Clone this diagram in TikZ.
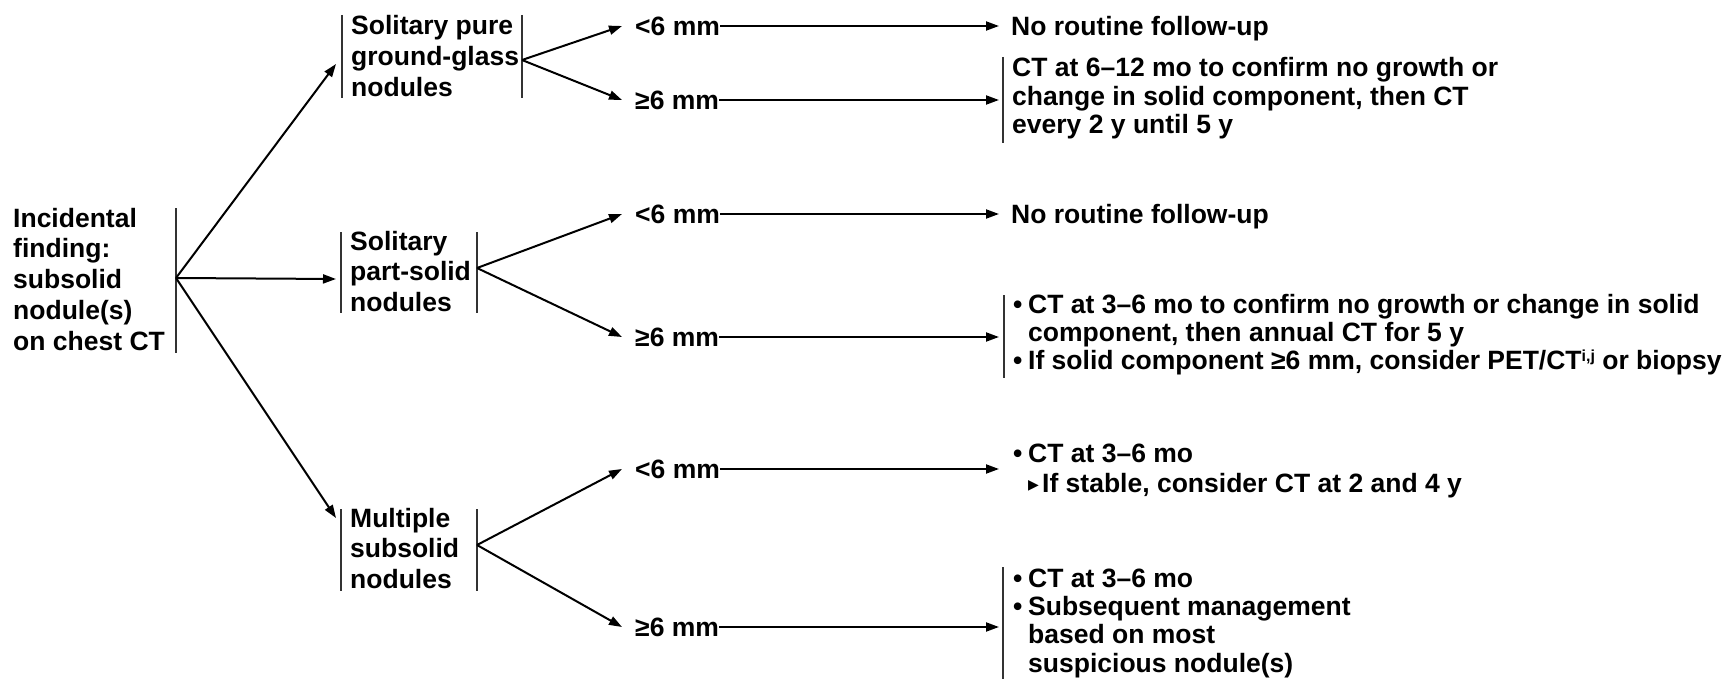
\documentclass[tikz,border=0pt]{standalone}
\usepackage{fontspec}
\setmainfont{Liberation Sans}
\newfontfamily\djv{DejaVu Sans}
\usetikzlibrary{arrows.meta}
\begin{document}
\begin{tikzpicture}[x=1pt,y=-1pt,
  arr/.style={-{Triangle[length=13pt,width=9pt]},line width=2pt},
  vbar/.style={line width=2pt,black!80},
  cat/.style={inner sep=0pt,anchor=base west,font=\bfseries\fontsize{26.5}{30.75}\selectfont},
  outc/.style={inner sep=0pt,anchor=base west,font=\bfseries\fontsize{26.5}{28.4}\selectfont},
  outw/.style={inner sep=0pt,anchor=base west,font=\bfseries\fontsize{26.5}{30}\selectfont},
  lab/.style={inner sep=0pt,anchor=west,text height=19pt,text depth=0pt,font=\bfseries\fontsize{26.5}{28}\selectfont},
]
\useasboundingbox (0,0) rectangle (1736,679);
\newcommand{\bul}{\makebox[15pt][l]{•}}

% category nodes
\node[cat] (root) at (13,227) {\begin{tabular}[t]{@{}l@{}}Incidental\\finding:\\subsolid\\nodule(s)\\on chest CT\end{tabular}};
\node[cat] (n1) at (351,35) {\begin{tabular}[t]{@{}l@{}}Solitary pure\\ground-glass\\nodules\end{tabular}};
\node[cat] (n2) at (350,250) {\begin{tabular}[t]{@{}l@{}}Solitary\\part-solid\\nodules\end{tabular}};
\node[cat] (n3) at (350,527) {\begin{tabular}[t]{@{}l@{}}Multiple\\subsolid\\nodules\end{tabular}};

% bars
\draw[vbar] (176,208) -- (176,353);
\draw[vbar] (342,15) -- (342,98);
\draw[vbar] (522,15) -- (522,98);
\draw[vbar] (341,232) -- (341,313);
\draw[vbar] (477,232) -- (477,313);
\draw[vbar] (341,509) -- (341,591);
\draw[vbar] (477,509) -- (477,591);

% connector points on bars
\coordinate (r0) at (176,278);
\coordinate (in1) at (336,64);
\coordinate (in2) at (336,279);
\coordinate (in3) at (336,518);
\coordinate (b1) at (522,60);
\coordinate (b2) at (477,268);
\coordinate (b3) at (477,545);
\coordinate (tipx) at (999,0);

\draw[arr] (r0) -- (in1);
\draw[arr] (r0) -- (in2);
\draw[arr] (r0) -- (in3);

% size labels
\node[lab] (l1) at (635,26) {<6 mm};
\node[lab] (l2) at (635,100) {≥6 mm};
\node[lab] (l3) at (635,214) {<6 mm};
\node[lab] (l4) at (635,337) {≥6 mm};
\node[lab] (l5) at (635,469) {<6 mm};
\node[lab] (l6) at (635,627) {≥6 mm};

\draw[arr] (b1) -- ([xshift=-13pt]l1.west);
\draw[arr] (b1) -- ([xshift=-13pt]l2.west);
\draw[arr] (b2) -- ([xshift=-13pt]l3.west);
\draw[arr] (b2) -- ([xshift=-13pt]l4.west);
\draw[arr] (b3) -- ([xshift=-13pt]l5.west);
\draw[arr] (b3) -- ([xshift=-13pt]l6.west);

% outcomes
\node[lab] (o1) at (1011,26) {No routine follow-up};
\node[outc] (o2) at (1012,77) {\begin{tabular}[t]{@{}l@{}}CT at 6–12 mo to confirm no growth or\\change in solid component, then CT\\every 2 y until 5 y\end{tabular}};
\node[lab] (o3) at (1011,214) {No routine follow-up};
\node[outc] (o4) at (1013,313) {\begin{tabular}[t]{@{}l@{}l@{}}\bul&CT at 3–6 mo to confirm no growth or change in solid\\&component, then annual CT for 5 y\\\bul&If solid component ≥6 mm, consider PET/CT\raisebox{8pt}[0pt][0pt]{\fontsize{16}{16}\selectfont i,j} or biopsy\end{tabular}};
\node[outw] (o5) at (1013,462) {\begin{tabular}[t]{@{}l@{}l@{}}\bul&CT at 3–6 mo\\&\makebox[14pt][l]{\raisebox{3pt}{\djv\fontsize{14}{14}\selectfont ▶}}If stable, consider CT at 2 and 4 y\end{tabular}};
\node[outc] (o6) at (1013,587) {\begin{tabular}[t]{@{}l@{}l@{}}\bul&CT at 3–6 mo\\\bul&Subsequent management\\&based on most\\&suspicious nodule(s)\end{tabular}};

\draw[vbar] (1003,57) -- (1003,143);
\draw[vbar] (1004,295) -- (1004,378);
\draw[vbar] (1003,567) -- (1003,679);

\draw[arr] (l1.east) -- ([xshift=-12pt]o1.west);
\draw[arr] (l2.east) -- (l2.east -| tipx);
\draw[arr] (l3.east) -- ([xshift=-12pt]o3.west);
\draw[arr] (l4.east) -- (l4.east -| tipx);
\draw[arr] (l5.east) -- (l5.east -| tipx);
\draw[arr] (l6.east) -- (l6.east -| tipx);
\end{tikzpicture}
\end{document}
